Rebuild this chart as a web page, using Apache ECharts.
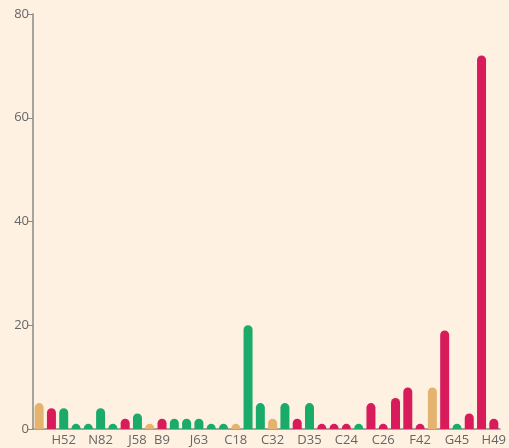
<!DOCTYPE html>
<html><head><meta charset="utf-8">
<style>html,body{margin:0;padding:0;background:#fef1e1;}#c{width:509px;height:448px;}</style>
<script src="https://cdn.jsdelivr.net/npm/echarts@6/dist/echarts.min.js"></script>
</head><body><div id="c"></div>
<script>
// Categories: only the labelled ones are readable in the reference; others unnamed
const categories = ['', '', 'H52', '', '', 'N82', '', '', 'J58', '', 'B9', '', '', 'J63', '', '', 'C18', '', '', 'C32', '', '', 'D35', '', '', 'C24', '', '', 'C26', '', '', 'F42', '', '', 'G45', '', '', 'H49'];
const values = [5, 4, 4, 1, 1, 4, 1, 2, 3, 1, 2, 2, 2, 2, 1, 1, 1, 20, 5, 2, 5, 2, 5, 1, 1, 1, 1, 5, 1, 6, 8, 1, 8, 19, 1, 3, 72, 2];
const groups = ['t', 'r', 'g', 'g', 'g', 'g', 'g', 'r', 'g', 't', 'r', 'g', 'g', 'g', 'g', 'g', 't', 'g', 'g', 't', 'g', 'r', 'g', 'r', 'r', 'r', 'g', 'r', 'r', 'r', 'r', 'r', 't', 'r', 'g', 'r', 'r', 'r'];
const yTicks = [0, 20, 40, 60, 80];
const labelIdx = [2, 5, 8, 10, 13, 16, 19, 22, 25, 28, 31, 34, 37];
const colorMap = { t: '#e4b36f', r: '#d81b5b', g: '#1aab6b' };

const chart = echarts.init(document.getElementById('c'), null, { renderer: 'canvas' });
const showIdx = (i) => labelIdx.indexOf(i) >= 0;
chart.setOption({
  backgroundColor: '#fef1e1',
  animation: false,
  grid: { left: 33, right: 5, top: 14, bottom: 19, containLabel: false },
  xAxis: {
    type: 'category',
    data: categories,
    axisLine: { lineStyle: { color: '#8a8a8a', width: 1.5 } },
    axisTick: { alignWithLabel: true, interval: showIdx, length: 5, lineStyle: { color: '#8a8a8a' } },
    axisLabel: { interval: showIdx, color: '#666', fontSize: 13, fontFamily: 'Open Sans', margin: 5 }
  },
  yAxis: {
    type: 'value',
    min: yTicks[0], max: yTicks[yTicks.length - 1], interval: 20,
    axisLine: { show: true, lineStyle: { color: '#8a8a8a', width: 1.5 } },
    axisTick: { show: true, length: 5, lineStyle: { color: '#8a8a8a' } },
    splitLine: { show: false },
    axisLabel: { color: '#666', fontSize: 13, fontFamily: 'Open Sans', margin: 4 }
  },
  series: [{
    type: 'bar',
    barWidth: 9,
    data: values.map((v, i) => ({ value: v, itemStyle: { color: colorMap[groups[i]] } })),
    itemStyle: { borderRadius: [5, 5, 0, 0] }
  }]
});
</script></body></html>
